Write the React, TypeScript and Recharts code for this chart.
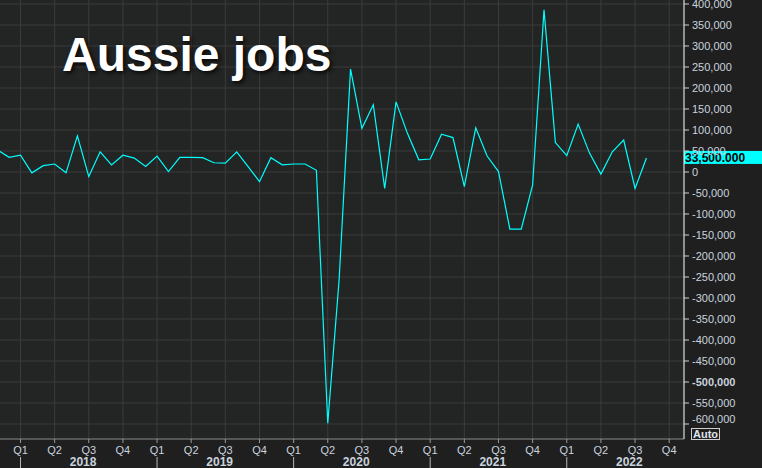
import React from 'react';
import {
  LineChart, Line, XAxis, YAxis, CartesianGrid, ReferenceLine
} from 'recharts';

// monthly employment change (persons), Nov 2017 .. Aug 2022
const MONTHS = [
  '2017-11', '2017-12',
  '2018-01', '2018-02', '2018-03', '2018-04', '2018-05', '2018-06',
  '2018-07', '2018-08', '2018-09', '2018-10', '2018-11', '2018-12',
  '2019-01', '2019-02', '2019-03', '2019-04', '2019-05', '2019-06',
  '2019-07', '2019-08', '2019-09', '2019-10', '2019-11', '2019-12',
  '2020-01', '2020-02', '2020-03', '2020-04', '2020-05', '2020-06',
  '2020-07', '2020-08', '2020-09', '2020-10', '2020-11', '2020-12',
  '2021-01', '2021-02', '2021-03', '2021-04', '2021-05', '2021-06',
  '2021-07', '2021-08', '2021-09', '2021-10', '2021-11', '2021-12',
  '2022-01', '2022-02', '2022-03', '2022-04', '2022-05', '2022-06',
  '2022-07', '2022-08',
];

const JOBS = [
  52000, 35000,
  40000, -2000, 15000, 19000, -2000, 86000,
  -11000, 48000, 17000, 40000, 33000, 13000,
  38000, 1000, 35000, 35000, 34000, 22000,
  21000, 48000, 13000, -23000, 34000, 17000,
  19000, 19000, 4000, -598000, -255000, 245000,
  104000, 160000, -39000, 167000, 92000, 29000,
  31000, 90000, 82000, -35000, 105000, 38000,
  1000, -136000, -136000, -31000, 386000, 70000,
  39000, 114000, 45000, -5000, 48000, 76000,
  -39000, 33500,
];

const YEARS = ['2018', '2019', '2020', '2021', '2022'];
const QUARTERS = ['Q1', 'Q2', 'Q3', 'Q4'];
const Y_TICKS = [
  -600000, -550000, -500000, -450000, -400000, -350000, -300000, -250000,
  -200000, -150000, -100000, -50000, 0, 50000, 100000, 150000, 200000,
  250000, 300000, 350000, 400000,
];
const LAST_LABEL = '33,500.000';

// month index relative to Jan 2018
const monthIdx = (m: string) => {
  const [y, mo] = m.split('-').map(Number);
  return (y - 2018) * 12 + (mo - 1);
};

const data = MONTHS.map((m, i) => ({ t: monthIdx(m), v: JOBS[i] }));
const quarterTicks = Array.from({ length: YEARS.length * 4 }, (_, i) => i * 3);
const yearTicks = YEARS.map((_, i) => i * 12 + 5.5);

const LABEL = '#c9d3de';
const FONT = '"Liberation Sans", Arial, sans-serif';

const QuarterTick = (props: any) => {
  const { x, y, payload } = props;
  const q = Math.round(payload.value / 3) % 4;
  return (
    <g>
      <line x1={x} x2={x} y1={y} y2={y + 4} stroke="#9a9a9a" />
      <text x={x} y={y + 11} textAnchor="middle" dominantBaseline="central"
        fill={LABEL} fontSize={11} fontFamily={FONT}>{QUARTERS[q]}</text>
      {q === 0 && <line x1={x} x2={x} y1={y + 18} y2={y + 29} stroke="#b8b8b8" />}
    </g>
  );
};

const YearTick = (props: any) => {
  const { x, y, index } = props;
  return (
    <text x={x} y={y + 5} textAnchor="middle" dominantBaseline="central"
      fill={LABEL} fontSize={12} fontWeight="bold" fontFamily={FONT}>{YEARS[index]}</text>
  );
};

const ValueTick = (props: any) => {
  const { x, y, payload } = props;
  const v = payload.value as number;
  // lowest label is nudged up to clear the "Auto" box
  const ty = v === Y_TICKS[0] ? y - 5 : y;
  return (
    <g>
      <line x1={x} x2={x + 5} y1={y} y2={y} stroke="#d0d0d0" />
      <text x={x + 8} y={ty} dominantBaseline="central" fill={LABEL}
        fontSize={11} fontWeight={v === -500000 ? 'bold' : 'normal'}
        fontFamily={FONT}>{v.toLocaleString('en-US')}</text>
    </g>
  );
};

const PriceTag = (props: any) => {
  const { viewBox } = props;
  const x = viewBox.x + viewBox.width;
  const y = viewBox.y;
  return (
    <g>
      <rect x={x} y={y - 7} width={78} height={13} fill="#00ffff" />
      <text x={x + 1} y={y} dominantBaseline="central" fill="#000"
        fontSize={12} fontWeight="bold" fontFamily={FONT}>{LAST_LABEL}</text>
    </g>
  );
};

export default function App() {
  return (
    <div style={{ position: 'absolute', left: 0, top: 0, width: 762, height: 468, background: '#1f1f20', overflow: 'hidden' }}>
      <LineChart width={762} height={468} data={data}
        margin={{ top: 0, right: 0, bottom: 0, left: 0 }}>
        <CartesianGrid xAxisId="q" stroke="#3b3c3b" fill="#232424"
          horizontalValues={Y_TICKS} verticalValues={quarterTicks} />
        <XAxis xAxisId="q" dataKey="t" type="number" domain={[-1.8, 58.3]}
          allowDataOverflow ticks={quarterTicks} interval={0} height={18}
          tickSize={0} tickMargin={0} tick={<QuarterTick />}
          axisLine={{ stroke: '#8a8a8a' }} />
        <XAxis xAxisId="yr" dataKey="t" type="number" domain={[-1.8, 58.3]}
          allowDataOverflow ticks={yearTicks} interval={0} height={11}
          tickSize={0} tickMargin={0} tick={<YearTick />} axisLine={false} />
        <YAxis orientation="right" width={78} type="number"
          domain={[-635700, 409500]} allowDataOverflow ticks={Y_TICKS} interval={0}
          tickSize={0} tickMargin={0} tick={<ValueTick />}
          axisLine={{ stroke: '#ffffff' }} />
        <Line xAxisId="q" type="linear" dataKey="v" stroke="#00ffff"
          strokeWidth={1.2} dot={false} activeDot={false} isAnimationActive={false} />
        <ReferenceLine xAxisId="q" y={JOBS[JOBS.length - 1]} stroke="none"
          label={<PriceTag />} />
      </LineChart>
      <div style={{
        position: 'absolute', left: 62, top: 31, color: '#fff', fontFamily: FONT,
        fontWeight: 'bold', fontSize: 48, lineHeight: '48px', whiteSpace: 'nowrap',
        textShadow: '2px 2px 4px rgba(0,0,0,0.85)',
      }}>Aussie jobs</div>
      <div style={{
        position: 'absolute', left: 691, top: 428, width: 27, height: 10,
        border: '1px solid #cfcfcf', color: '#dfe4ea', fontFamily: FONT,
        fontWeight: 'bold', fontSize: 11, lineHeight: '10px', textAlign: 'center',
      }}>Auto</div>
    </div>
  );
}
